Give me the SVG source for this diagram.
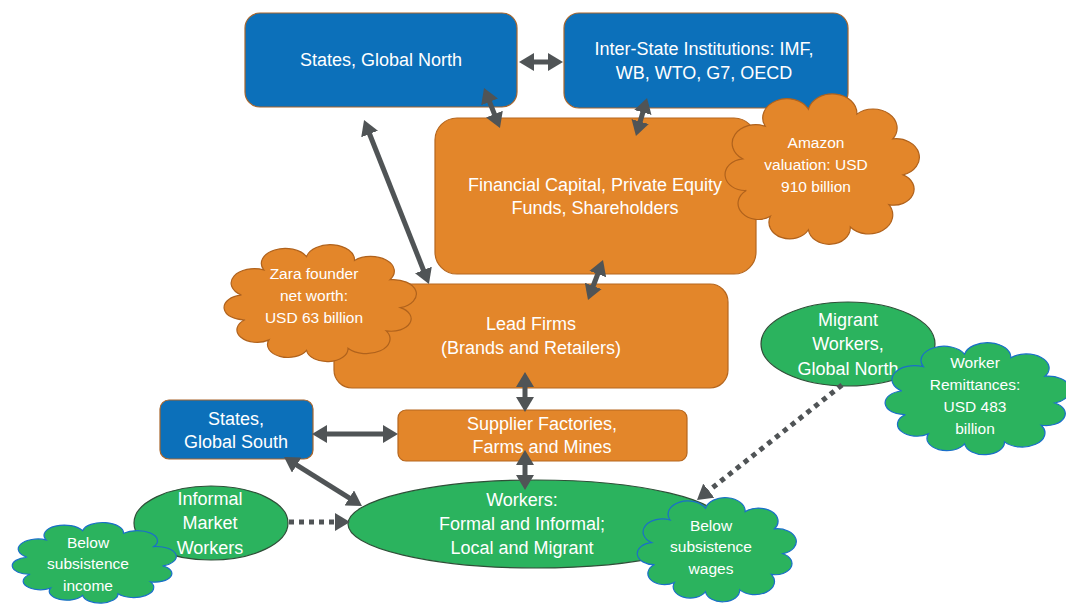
<svg xmlns="http://www.w3.org/2000/svg" xmlns:xlink="http://www.w3.org/1999/xlink" width="1066" height="605" viewBox="0 0 1066 605">
<style>
.blue{fill:#0C70BA;stroke:#A8652C;stroke-width:1.2}
.orange{fill:#E3862A;stroke:#B5661E;stroke-width:1.2}
.ocloud{fill:#E3862A;stroke:#B0621C;stroke-width:1.2}
.green{fill:#2BB35E;stroke:#2F4F38;stroke-width:1.2}
.gcloud{fill:#2BB35E;stroke:#1A6FC9;stroke-width:1.2}
text{font-family:"Liberation Sans",Arial,sans-serif;fill:#FFFFFF;text-anchor:middle}
.t17{font-size:18px}
.t15{font-size:15.5px}
.arr{stroke:#505456;stroke-width:5;fill:none;marker-start:url(#ah);marker-end:url(#ah)}
.dot{stroke:#505456;stroke-width:5;fill:none;stroke-dasharray:5 5;marker-end:url(#ah)}
</style>
<defs>
<marker id="ah" markerUnits="userSpaceOnUse" viewBox="0 0 15 18" markerWidth="15" markerHeight="18" refX="7" refY="9" orient="auto-start-reverse">
<path d="M0,0 L15,9 L0,18 Z" fill="#505456"/>
</marker>
<path id="cloud" vector-effect="non-scaling-stroke" d="M8.6,43 A12.2,12.2 0 0 1 20.3,21.7 A12.5,12.5 0 0 1 42.7,10.6 A12.7,12.7 0 0 1 67.8,13.8 A12.4,12.4 0 0 1 86.4,30 A12.1,12.1 0 0 1 91.8,53.5 A10.5,10.5 0 0 1 84.4,73 A12.4,12.4 0 0 1 64.4,87.6 A10.9,10.9 0 0 1 42.7,89.4 A10.8,10.8 0 0 1 23,80.6 A10.5,10.5 0 0 1 10.5,63.7 A10.4,10.4 0 0 1 8.6,43 Z"/>
</defs>

<g id="states-north">
<rect class="blue" x="245" y="13" width="272" height="94" rx="15"/>
<text class="t17" x="381" y="66">States, Global North</text>
</g>
<g id="inter-state">
<rect class="blue" x="564" y="13" width="284" height="95" rx="15"/>
<text class="t17" x="704" y="55">Inter-State Institutions: IMF,</text>
<text class="t17" x="704" y="79">WB, WTO, G7, OECD</text>
</g>
<g id="financial">
<rect class="orange" x="435" y="118" width="321" height="156" rx="22"/>
<text class="t17" x="595" y="191">Financial Capital, Private Equity</text>
<text class="t17" x="595" y="214">Funds, Shareholders</text>
</g>
<g id="amazon">
<use xlink:href="#cloud" class="ocloud" transform="translate(726,93) scale(1.93,1.53)"/>
<text class="t15" x="816" y="148">Amazon</text>
<text class="t15" x="816" y="170">valuation: USD</text>
<text class="t15" x="816" y="192">910 billion</text>
</g>
<g id="lead-firms">
<rect class="orange" x="334" y="284" width="394" height="104" rx="18"/>
<text class="t17" x="531" y="330">Lead Firms</text>
<text class="t17" x="531" y="354">(Brands and Retailers)</text>
</g>
<g id="zara">
<use xlink:href="#cloud" class="ocloud" transform="translate(225,244) scale(1.91,1.19)"/>
<text class="t15" x="314" y="279">Zara founder</text>
<text class="t15" x="314" y="301">net worth:</text>
<text class="t15" x="314" y="323">USD 63 billion</text>
</g>
<g id="states-south">
<rect class="blue" x="160" y="400" width="153" height="59" rx="9"/>
<text class="t17" x="236" y="425">States,</text>
<text class="t17" x="236" y="448">Global South</text>
</g>
<g id="supplier">
<rect class="orange" x="398" y="410" width="289" height="51" rx="8"/>
<text class="t17" x="542" y="430">Supplier Factories,</text>
<text class="t17" x="542" y="453">Farms and Mines</text>
</g>
<g id="workers">
<ellipse class="green" cx="536" cy="524" rx="188" ry="44"/>
<text class="t17" x="522" y="506">Workers:</text>
<text class="t17" x="522" y="530">Formal and Informal;</text>
<text class="t17" x="522" y="554">Local and Migrant</text>
</g>
<g id="informal">
<ellipse class="green" cx="211" cy="523" rx="77" ry="37"/>
<text class="t17" x="210" y="505">Informal</text>
<text class="t17" x="210" y="529">Market</text>
<text class="t17" x="210" y="554">Workers</text>
</g>
<g id="income">
<use xlink:href="#cloud" class="gcloud" transform="translate(13,522) scale(1.63,0.82)"/>
<text class="t15" x="88" y="548">Below</text>
<text class="t15" x="88" y="569">subsistence</text>
<text class="t15" x="88" y="591">income</text>
</g>
<g id="migrant">
<ellipse class="green" cx="848" cy="344" rx="87" ry="42"/>
<text class="t17" x="848" y="326">Migrant</text>
<text class="t17" x="848" y="350">Workers,</text>
<text class="t17" x="848" y="375">Global North</text>
</g>
<g id="remittances">
<use xlink:href="#cloud" class="gcloud" transform="translate(886,342) scale(1.84,1.14)"/>
<text class="t15" x="975" y="368">Worker</text>
<text class="t15" x="975" y="390">Remittances:</text>
<text class="t15" x="975" y="412">USD 483</text>
<text class="t15" x="975" y="434">billion</text>
</g>
<g id="wages">
<use xlink:href="#cloud" class="gcloud" transform="translate(638,497) scale(1.58,1.06)"/>
<text class="t15" x="711" y="531">Below</text>
<text class="t15" x="711" y="552">subsistence</text>
<text class="t15" x="711" y="574">wages</text>
</g>

<g id="connectors">
<line class="arr" x1="527" y1="62" x2="555" y2="62"/>
<line class="arr" x1="487" y1="95.4" x2="497" y2="120.6"/>
<line class="arr" x1="644.8" y1="105.7" x2="638.2" y2="128.3"/>
<line class="arr" x1="367" y1="127.5" x2="426" y2="276.5"/>
<line class="arr" x1="600.2" y1="267.5" x2="590.8" y2="292.5"/>
<line class="arr" x1="525" y1="380" x2="525" y2="404"/>
<line class="arr" x1="525" y1="458" x2="525" y2="482"/>
<line class="arr" x1="320" y1="434" x2="390" y2="434"/>
<line class="arr" x1="290.8" y1="461.3" x2="355.2" y2="501.7"/>
<line class="dot" x1="289" y1="522" x2="342" y2="522"/>
<line class="dot" x1="842" y1="385" x2="703.3" y2="495"/>
</g>
</svg>
